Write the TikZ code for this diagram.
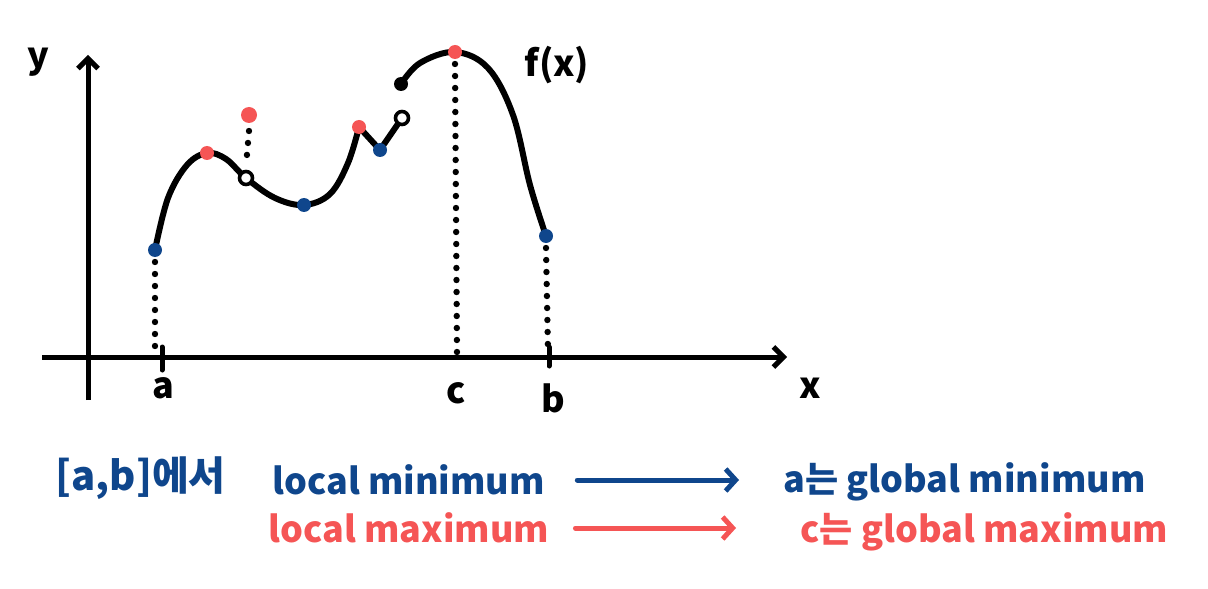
\documentclass[tikz,border=0pt]{standalone}
\usepackage{fontspec}
\setmainfont{Noto Sans CJK KR}
\usetikzlibrary{arrows.meta}
\definecolor{mblue}{RGB}{15,70,140}
\definecolor{mred}{RGB}{245,85,85}
\tikzset{
  curve/.style={line width=3pt, line cap=round, line join=round},
  axis/.style={line width=2.5pt, -{Straight Barb[length=5pt,width=10pt,line width=2.5pt]}},
  dotline/.style={line width=3.2pt, line cap=round, dash pattern=on 0pt off 6pt},
  bdot/.style={circle, fill=mblue, inner sep=0pt, minimum size=7pt},
  rdot/.style={circle, fill=mred, inner sep=0pt, minimum size=7pt},
  kdot/.style={circle, fill=black, inner sep=0pt, minimum size=7pt},
  odot/.style={circle, draw=black, fill=white, line width=1.8pt, inner sep=0pt, minimum size=6.5pt},
  lbl/.style={font=\fontsize{18}{22}\selectfont\bfseries, inner sep=0pt},
  txt/.style={font=\fontsize{18}{22}\selectfont\bfseries, inner sep=0pt, anchor=west},
  arr/.style={line width=2.5pt, line cap=round, -{Straight Barb[length=5pt,width=11pt,line width=2.5pt]}}
}
\begin{document}
\begin{tikzpicture}[x=0.5pt, y=-0.5pt]
\useasboundingbox (0,0) rectangle (1208,588);
% axes
\coordinate (yb) at (88,400);
\coordinate (yt) at (88,55);
\coordinate (xl) at (42,357);
\coordinate (xr) at (787,357);
\draw[axis] (yb) -- (yt);
\draw[axis] (xl) -- (xr);
\node[lbl] (ylab) at (38,62) {y};
\node[lbl] (xlab) at (810,388) {x};
% ticks
\coordinate (ta1) at (162,347); \coordinate (ta2) at (162,370);
\coordinate (tb1) at (549,347); \coordinate (tb2) at (549,366);
\draw[line width=2.5pt, line cap=round] (ta1) -- (ta2);
\draw[line width=2.5pt, line cap=round] (tb1) -- (tb2);
\node[lbl] (alab) at (163,388) {a};
\node[lbl] (clab) at (456,393) {c};
\node[lbl] (blab) at (553,398) {b};
% curve
\draw[curve] plot[smooth, tension=0.6] coordinates {(155,250) (168,198) (187,165) (207,153) (226,159) (246,178) (275,198) (304,205) (330,194) (348,163) (359,127)} -- (380,150) -- (402,118);
\draw[curve] plot[smooth, tension=0.6] coordinates {(401,84) (420,63) (455,52) (488,68) (513,115) (530,185) (546,236)};
\node[lbl] (flab) at (557,65) {f(x)};
% points
\node[bdot] (pa) at (155,250) {};
\node[rdot] (m1) at (207,153) {};
\node[odot] (h1) at (246,178) {};
\node[rdot, minimum size=8pt] (r1) at (249,115) {};
\node[bdot] (n1) at (304,205) {};
\node[rdot] (m2) at (359,127) {};
\node[bdot] (n2) at (380,150) {};
\node[odot] (h2) at (402,118) {};
\node[kdot] (k1) at (401,84) {};
\node[rdot] (pc) at (455,52) {};
\node[bdot] (pb) at (546,236) {};
% dotted drops
\coordinate (fa) at (155,352);
\coordinate (fc) at (457,355);
\coordinate (fb) at (548,352);
\draw[dotline] ([yshift=-6pt]pa.center) -- (fa);
\draw[dotline] ([yshift=-6pt]pc.center) -- (fc);
\draw[dotline] ([yshift=-6pt]pb.center) -- (fb);
\draw[dotline] ([yshift=-8pt]r1.center) -- ([yshift=6pt]h1.center);
% text
\node[txt, text=mblue, font=\fontsize{20}{24}\selectfont\bfseries] (t1) at (55,478) {[a,b]에서};
\node[txt, text=mblue] (lmin) at (272,480) {local minimum};
\node[txt, text=mblue] (gmin) at (783,482) {a는 global minimum};
\node[txt, text=mred] (lmax) at (268,528) {local maximum};
\node[txt, text=mred] (gmax) at (800,532) {c는 global maximum};
\draw[arr, draw=mblue] ([xshift=16pt]lmin.east) -- ([xshift=-22pt]gmin.west |- lmin.east);
\draw[arr, draw=mred] ([xshift=13pt]lmax.east) -- ([xshift=-32pt]gmax.west |- lmax.east);
\end{tikzpicture}
\end{document}
